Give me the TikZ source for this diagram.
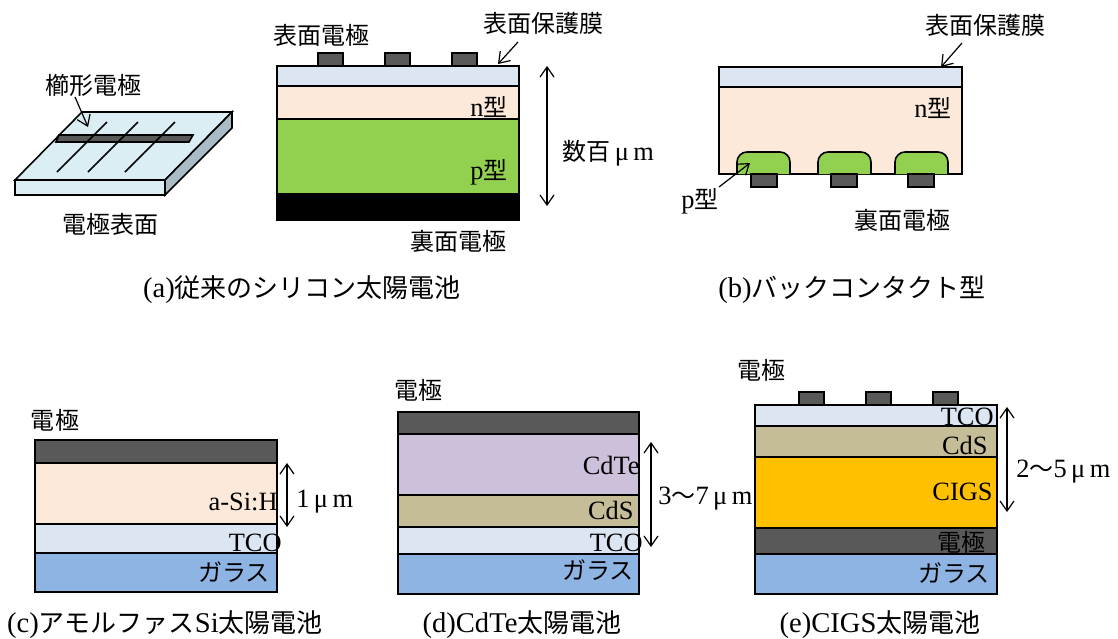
\documentclass[tikz,border=0pt]{standalone}
\usepackage{fontspec}
\setmainfont{Liberation Serif}[Scale=1.1]
\newfontfamily\jp{Noto Sans CJK JP}
\usepackage{tikz}
\usetikzlibrary{arrows.meta}

\definecolor{filmblue}{HTML}{DCE6F2}
\definecolor{ntype}{HTML}{FDE9D9}
\definecolor{ptype}{HTML}{92D050}
\definecolor{elecgray}{HTML}{595959}
\definecolor{cdte}{HTML}{CCC0DA}
\definecolor{cds}{HTML}{C4BD97}
\definecolor{glass}{HTML}{8EB4E3}
\definecolor{cigs}{HTML}{FFC000}
\definecolor{platetop}{HTML}{DAEEF3}
\definecolor{plateside}{HTML}{A9BCC6}

\tikzset{
  lyr/.style={draw=black, line width=0.8pt},
  lbl/.style={inner sep=0pt, font=\fontsize{12}{14}\selectfont},
  caption/.style={inner sep=0pt, font=\fontsize{13}{15}\selectfont},
  pointer/.style={line width=0.6pt, -{Straight Barb[length=5pt,width=7pt]}},
  dimarrow/.style={line width=0.6pt, {Straight Barb[length=5pt,width=7pt]}-{Straight Barb[length=5pt,width=7pt]}},
}

\begin{document}
\begin{tikzpicture}[x=0.5pt, y=-0.5pt]
  \useasboundingbox (0,0) rectangle (1118,638);

  % (a) comb electrode on the plate
  \filldraw[lyr, fill=platetop] (82,112) -- (232,112) -- (165,180) -- (15,180) -- cycle;
  \filldraw[lyr, fill=platetop] (15,180) rectangle (165,195);
  \filldraw[lyr, fill=plateside] (165,180) -- (232,112) -- (232,128) -- (165,195) -- cycle;
  \filldraw[lyr, fill=elecgray] (59,135) -- (193,135) -- (189,142) -- (56,142) -- cycle;
  \foreach \xa in {57,88,125}
    \draw[line width=0.8pt] (\xa,172) -- ++(50,-50);
  \node[lbl] (kushi) at (93,85) {\jp 櫛形電極};
  \coordinate (kushiFrom) at (75,97);
  \coordinate (kushiTo) at (88,127);
  \draw[pointer] (kushiFrom) -- (kushiTo);
  \node[lbl] (plateFace) at (110,224) {\jp 電極表面};

  % (a) conventional cell cross section
  \foreach \ya/\yb/\c in {66/86/filmblue, 86/119/ntype, 119/194/ptype, 194/220/black}
    \filldraw[lyr, fill=\c] (277,\ya) rectangle (519,\yb);
  \foreach \xa in {318,385,452}
    \filldraw[lyr, fill=elecgray] (\xa,53) rectangle ++(25,13);
  \node[lbl] (aFront) at (321,35) {\jp 表面電極};
  \node[lbl] (aFilm) at (543,23) {\jp 表面保護膜};
  \coordinate (aFilmFrom) at (518,42);
  \coordinate (aFilmTo) at (498,64);
  \draw[pointer] (aFilmFrom) -- (aFilmTo);
  \node[lbl, anchor=east] (aN) at (508,107) {n{\jp 型}};
  \node[lbl, anchor=east] (aP) at (508,172) {p{\jp 型}};
  \node[lbl] (aBack) at (458,241) {\jp 裏面電極};
  \coordinate (aTop) at (547,66);
  \coordinate (aBot) at (547,206);
  \draw[dimarrow] (aTop) -- (aBot);
  \node[lbl, anchor=west] (aThick) at (562,153) {{\jp 数百}\,μ\,m};
  \node[caption] (capA) at (302,290) {(a){\jp 従来のシリコン太陽電池}};

  % (b) back contact cell
  \foreach \ya/\yb/\c in {67/87/filmblue, 87/174/ntype}
    \filldraw[lyr, fill=\c] (719,\ya) rectangle (962,\yb);
  \foreach \xa in {737,818,895}
    \filldraw[lyr, fill=ptype, rounded corners=5pt] (\xa,174) -- (\xa,152) -- (\xa+53,152) -- (\xa+53,174);
  \foreach \xa in {751,831,908}
    \filldraw[lyr, fill=elecgray] (\xa,174) rectangle ++(26,13);
  \node[lbl] (bFilm) at (985,25) {\jp 表面保護膜};
  \coordinate (bFilmFrom) at (962,43);
  \coordinate (bFilmTo) at (941,67);
  \draw[pointer] (bFilmFrom) -- (bFilmTo);
  \node[lbl, anchor=east] (bN) at (952,108) {n{\jp 型}};
  \node[lbl] (bP) at (700,201) {p{\jp 型}};
  \coordinate (bPFrom) at (719,187);
  \coordinate (bPTo) at (750,163);
  \draw[pointer] (bPFrom) -- (bPTo);
  \node[lbl] (bBack) at (902,220) {\jp 裏面電極};
  \node[caption] (capB) at (852,290) {(b){\jp バックコンタクト型}};

  % (c) amorphous Si
  \foreach \ya/\yb/\c in {440/463/elecgray, 463/524/ntype, 524/553/filmblue, 553/592/glass}
    \filldraw[lyr, fill=\c] (35,\ya) rectangle (277,\yb);
  \node[lbl] (cElec) at (55,420) {\jp 電極};
  \node[lbl, anchor=east] (cSi) at (278,502) {a-Si:H};
  \node[lbl, anchor=east] (cTco) at (282,543) {TCO};
  \node[lbl, anchor=east] (cGlass) at (270,572) {\jp ガラス};
  \coordinate (cTop) at (287,463);
  \coordinate (cBot) at (287,527);
  \draw[dimarrow] (cTop) -- (cBot);
  \node[lbl, anchor=west] (cThick) at (296,502) {1\,μ\,m};
  \node[caption] (capC) at (165,625) {(c){\jp アモルファス}Si{\jp 太陽電池}};

  % (d) CdTe
  \foreach \ya/\yb/\c in {412/434/elecgray, 434/495/cdte, 495/527/cds, 527/554/filmblue, 554/594/glass}
    \filldraw[lyr, fill=\c] (398,\ya) rectangle (639,\yb);
  \node[lbl] (dElec) at (418,390) {\jp 電極};
  \node[lbl, anchor=east] (dCdte) at (640,465) {CdTe};
  \node[lbl, anchor=east] (dCds) at (634,510) {CdS};
  \node[lbl, anchor=east] (dTco) at (643,543) {TCO};
  \node[lbl, anchor=east] (dGlass) at (634,570) {\jp ガラス};
  \coordinate (dTop) at (651,442);
  \coordinate (dBot) at (651,547);
  \draw[dimarrow] (dTop) -- (dBot);
  \node[lbl, anchor=west] (dThick) at (658,499) {3{\jp ～}7\,μ\,m};
  \node[caption] (capD) at (522,625) {(d)CdTe{\jp 太陽電池}};

  % (e) CIGS
  \foreach \ya/\yb/\c in {405/426/filmblue, 426/457/cds, 457/528/cigs, 528/554/elecgray, 554/594/glass}
    \filldraw[lyr, fill=\c] (755,\ya) rectangle (997,\yb);
  \foreach \xa in {799,866,933}
    \filldraw[lyr, fill=elecgray] (\xa,392) rectangle ++(25,13);
  \node[lbl] (eElec) at (761,370) {\jp 電極};
  \node[lbl, anchor=east] (eTco) at (994,417) {TCO};
  \node[lbl, anchor=east] (eCds) at (988,445) {CdS};
  \node[lbl, anchor=east] (eCigs) at (993,492) {CIGS};
  \node[lbl, anchor=east] (eBack) at (986,542) {\jp 電極};
  \node[lbl, anchor=east] (eGlass) at (990,573) {\jp ガラス};
  \coordinate (eTop) at (1007,407);
  \coordinate (eBot) at (1007,512);
  \draw[dimarrow] (eTop) -- (eBot);
  \node[lbl, anchor=west] (eThick) at (1016,472) {2{\jp ～}5\,μ\,m};
  \node[caption] (capE) at (880,625) {(e)CIGS{\jp 太陽電池}};
\end{tikzpicture}
\end{document}
